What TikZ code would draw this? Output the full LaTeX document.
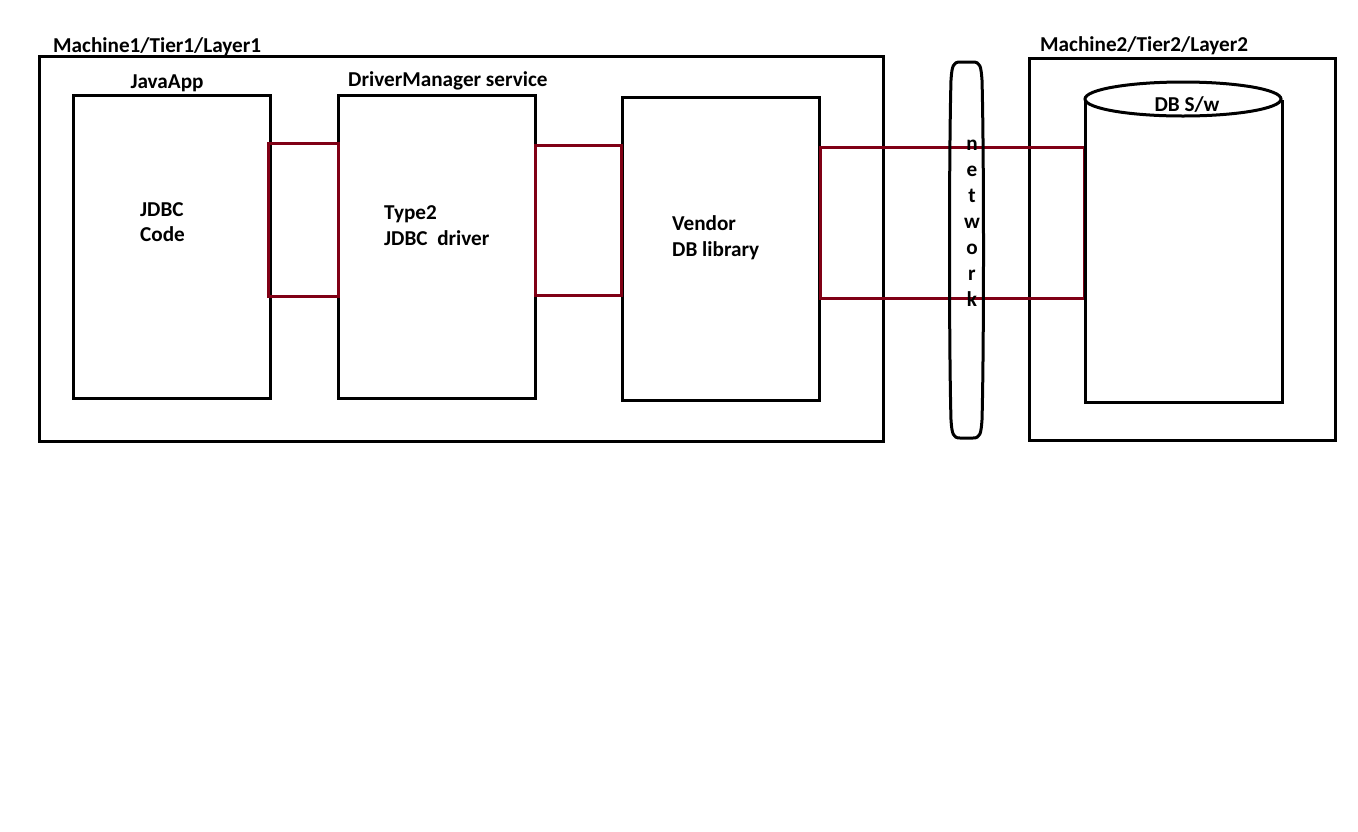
\documentclass[tikz,border=0pt]{standalone}
\usepackage{fontspec}
\setmainfont{Carlito}
\definecolor{linkred}{RGB}{128,0,21}
\begin{document}
\begin{tikzpicture}[x=1pt,y=-1pt,
  blk/.style={draw=black,line width=3pt},
  lnk/.style={draw=linkred,line width=3pt},
  lbl/.style={anchor=base west,inner sep=0pt,font=\bfseries\fontsize{21.2}{25}\selectfont},
  nlet/.style={anchor=base,inner sep=0pt,font=\bfseries\fontsize{21.2}{25}\selectfont}]
\useasboundingbox (0,0) rectangle (1358,831);
\fill[white] (0,0) rectangle (1358,831);
% containers
\draw[blk] (39,56) rectangle (883,441);
\node[lbl] (m1) at (53,52) {Machine1/Tier1/Layer1};
\draw[blk] (1029,58) rectangle (1335,440);
\node[lbl] (m2) at (1040,51) {Machine2/Tier2/Layer2};
% boxes
\draw[blk] (73,95) rectangle (270,398);
\node[lbl,anchor=base] (ja) at (167,88) {JavaApp};
\node[lbl] (jd1) at (140,216) {JDBC};
\node[lbl] (jd2) at (140,241.5) {Code};
\draw[blk] (338,95) rectangle (535,398);
\node[lbl] (dm) at (348,86.5) {DriverManager service};
\node[lbl] (t1) at (384,219) {Type2};
\node[lbl] (t2) at (384,245) {JDBC\ \ driver};
\draw[blk] (622,97) rectangle (819,400);
\node[lbl] (v1) at (672,230) {Vendor};
\node[lbl] (v2) at (672,256) {DB library};
% links
\draw[lnk] (268,143) rectangle (338,296);
\draw[lnk] (535,145) rectangle (621,295);
\draw[lnk] (820,147) rectangle (1084,298);
% network
\draw[blk] (960,62) -- (973,62)
  .. controls (980,62) and (981,66) .. (982,80)
  .. controls (984,150) and (984,350) .. (982,420)
  .. controls (981,434) and (980,438) .. (973,438) -- (960,438)
  .. controls (953,438) and (952,434) .. (951,420)
  .. controls (949,350) and (949,150) .. (951,80)
  .. controls (952,66) and (953,62) .. (960,62) -- cycle;
\foreach \l [count=\i from 0] in {n,e,t,w,o,r,k}
  \node[nlet] (nw\i) at (972,150+26*\i) {\l};
% cylinder
\draw[blk] (1085,100) -- (1085,402) -- (1282,402) -- (1282,100);
\draw[blk] (1183,99) ellipse [x radius=98, y radius=17];
\node[lbl,anchor=base] (db) at (1187,111) {DB S/w};
\end{tikzpicture}
\end{document}
